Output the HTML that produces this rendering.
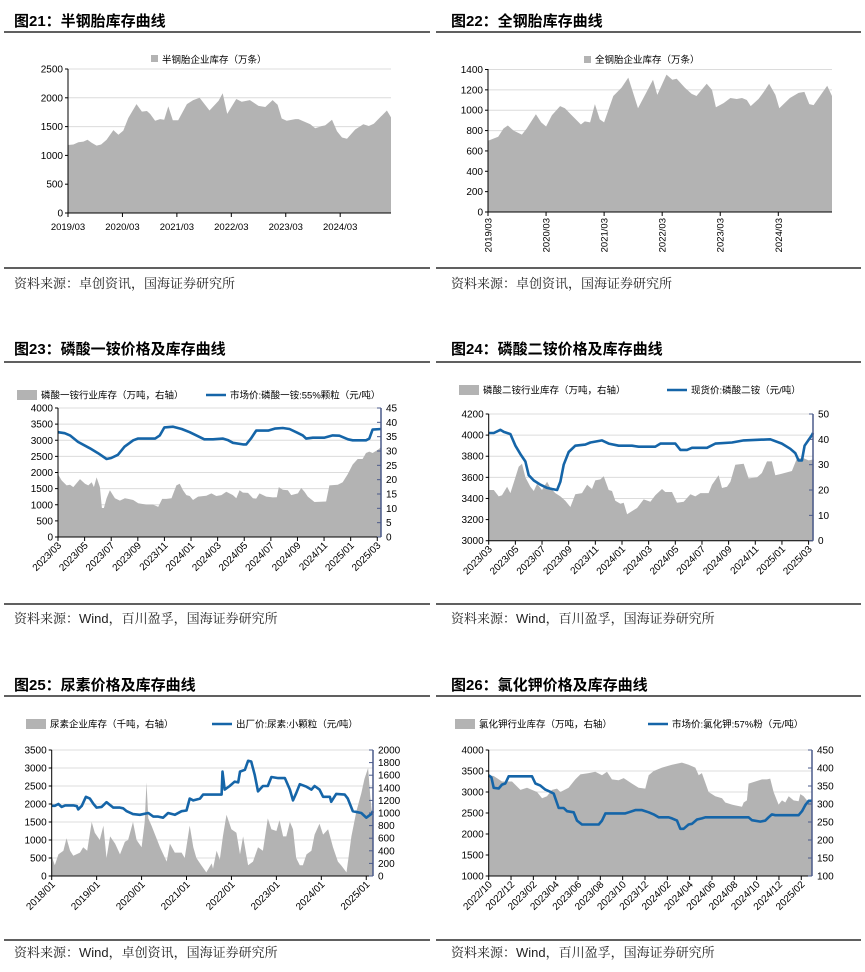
<!DOCTYPE html>
<html><head><meta charset="utf-8">
<style>
body{margin:0;background:#fff;width:865px;height:972px;overflow:hidden;font-family:"Liberation Sans","Noto Sans CJK SC",sans-serif;}
svg{position:absolute;left:0;top:0}
.t{font-family:"Liberation Sans","Noto Sans CJK SC",sans-serif;}
.src{font-family:"Liberation Sans","Noto Serif CJK SC",serif;}
</style></head><body>
<svg id="s" width="865" height="972" xmlns="http://www.w3.org/2000/svg">
<g class="t" font-size="15" font-weight="bold" fill="#000">
<text x="14" y="26">图21：半钢胎库存曲线</text>
<text x="451" y="26">图22：全钢胎库存曲线</text>
<text x="14" y="354">图23：磷酸一铵价格及库存曲线</text>
<text x="451" y="354">图24：磷酸二铵价格及库存曲线</text>
<text x="14" y="690">图25：尿素价格及库存曲线</text>
<text x="451" y="690">图26：氯化钾价格及库存曲线</text>
</g>
<g stroke="#000" stroke-width="1.3">
<line x1="4" y1="32" x2="430" y2="32"/><line x1="436" y1="32" x2="861" y2="32"/>
<line x1="4" y1="268" x2="430" y2="268"/><line x1="436" y1="268" x2="861" y2="268"/>
<line x1="4" y1="362" x2="430" y2="362"/><line x1="436" y1="362" x2="861" y2="362"/>
<line x1="4" y1="604" x2="430" y2="604"/><line x1="436" y1="604" x2="861" y2="604"/>
<line x1="4" y1="696" x2="430" y2="696"/><line x1="436" y1="696" x2="861" y2="696"/>
<line x1="4" y1="940" x2="430" y2="940"/><line x1="436" y1="940" x2="861" y2="940"/>
</g>
<g class="src" font-size="13" fill="#222">
<text x="14" y="288">资料来源：卓创资讯，国海证券研究所</text>
<text x="451" y="288">资料来源：卓创资讯，国海证券研究所</text>
<text x="14" y="623">资料来源：Wind，百川盈孚，国海证券研究所</text>
<text x="451" y="623">资料来源：Wind，百川盈孚，国海证券研究所</text>
<text x="14" y="957">资料来源：Wind，卓创资讯，国海证券研究所</text>
<text x="451" y="957">资料来源：Wind，百川盈孚，国海证券研究所</text>
</g>
</svg>
<script>
// ===== Fig21 data (month offset from 2019/03, value 万条)
const f21Months=[0,1.2,2.3,3.4,4.3,5.2,6.3,7.3,8.5,10,11.1,12.2,13.3,15.1,16.3,17.4,18.1,19.2,20.3,21.2,22.1,23.1,24.3,26.2,27.6,29,31.2,33.2,34.1,35.1,37.1,38.3,40.1,42,43.5,45.1,46.2,47.1,48.2,50.1,50.8,53.4,54.5,56,56.7,58.2,59.3,60.4,61.5,63.3,65.1,66.3,67.4,70.3,71.2];
const f21Values=[1180,1190,1230,1240,1270,1220,1170,1190,1270,1440,1360,1430,1650,1890,1760,1770,1720,1600,1630,1620,1850,1610,1610,1890,1960,2000,1780,1950,2080,1720,1980,1930,1960,1860,1840,1960,1880,1640,1600,1630,1630,1540,1470,1510,1520,1620,1420,1310,1290,1450,1540,1510,1550,1780,1660];
const f21YTicks=[0,500,1000,1500,2000,2500];
const f21XLabels=["2019/03","2020/03","2021/03","2022/03","2023/03","2024/03"];
// ===== Fig22
const f22Months=[0,2.1,3.2,4.1,5.3,7,8,9.9,11,12,13.2,14.9,15.9,17.3,19.2,20,21.1,22.1,23.1,24,25.9,27.6,29,31,33,34.1,35,36.9,38.1,39,40.7,42.1,43.1,45.2,46.3,47.1,48.7,50.1,51.4,52.5,53.5,54.3,55.9,57,58.1,59.4,60.2,62.4,64.2,65.4,66.4,67.3,70.1,71.1];
const f22Values=[700,740,820,850,800,760,820,960,880,840,950,1040,1020,950,860,890,880,1060,910,880,1140,1220,1320,1020,1200,1300,1150,1350,1300,1310,1220,1160,1140,1260,1200,1030,1070,1120,1110,1120,1100,1040,1110,1180,1260,1150,1020,1120,1170,1180,1060,1050,1240,1140];
const f22YTicks=[0,200,400,600,800,1000,1200,1400];
const f22XLabels=["2019/03","2020/03","2021/03","2022/03","2023/03","2024/03"];
// ===== Fig23 (months from 2023/03)
const f23PriceMonths=[0,0.5,0.9,1.5,2.4,3,3.65,4,4.5,5,5.65,6,7.3,7.65,8,8.65,9.3,9.9,10.4,11,11.65,12.4,12.8,13.15,13.9,14.15,14.5,14.9,15.8,16.3,16.9,17.4,18,18.4,18.65,19.15,20,20.65,21.15,21.8,22.15,23.15,23.4,23.65,24.3];
const f23Price=[3250,3220,3150,2950,2750,2600,2420,2450,2550,2800,3000,3050,3050,3150,3400,3420,3350,3250,3150,3030,3030,3050,3000,2920,2870,2870,3050,3300,3300,3360,3380,3350,3230,3150,3050,3080,3080,3150,3140,3030,3000,3000,3050,3330,3350];
const f23InvMonths=[0,.28,.65,.9,1.15,1.65,2.03,2.28,2.53,2.7,2.9,3.15,3.3,3.45,3.65,3.9,4.28,4.65,5.03,5.28,5.65,6.03,6.65,7.15,7.53,7.83,8.15,8.53,8.9,9.15,9.4,9.65,9.9,10.15,10.53,11.15,11.53,11.9,12.28,12.65,13.15,13.4,13.65,13.9,14.28,14.65,14.9,15.15,15.65,16.15,16.45,16.6,16.9,17.28,17.53,18.03,18.28,18.53,18.78,19.28,20.15,20.4,21.03,21.4,21.78,22.15,22.53,22.9,23.15,23.4,23.65,24.03,24.28];
const f23Inv=[21.9,19.7,18,18.2,17.4,20.2,18.6,18,19.1,17.4,20.8,17.4,10.1,10.1,13.5,16.3,13.5,12.7,13.5,13.3,12.9,11.8,11.3,11.3,10.5,13.3,13.3,13.5,18,18.6,16.3,14.6,14.3,12.9,14.1,14.4,15.2,14.3,14.6,15.8,14.6,13.5,16.3,15.5,15.4,13.5,13.4,15.2,14.1,13.8,13.9,17.4,16.5,16.3,14.6,15.2,17.1,15.8,14.1,12.2,12.4,18,18.2,19.1,21.9,25.3,27.2,27.2,29.3,29.8,29.3,30.4,31.3];
const f23LeftTicks=[0,500,1000,1500,2000,2500,3000,3500,4000];
const f23RightTicks=[0,5,10,15,20,25,30,35,40,45];
const f23XLabels=["2023/03","2023/05","2023/07","2023/09","2023/11","2024/01","2024/03","2024/05","2024/07","2024/09","2024/11","2025/01","2025/03"];
// ===== Fig24
const f24PriceMonths=[0,.38,.88,1.13,1.63,2,2.38,2.75,3,3.38,3.88,4.38,4.75,5.13,5.38,5.63,6,6.5,7.25,7.63,8.5,9,9.75,10.75,11.25,12.5,12.88,14,14.38,14.88,15.25,16.38,17,18.25,19.13,21.13,22,22.63,23,23.25,23.5,23.7,24.25,24.33];
const f24Price=[4020,4020,4050,4030,4010,3900,3820,3750,3620,3570,3530,3500,3490,3480,3560,3720,3840,3900,3910,3930,3950,3920,3900,3900,3890,3890,3920,3920,3860,3860,3880,3880,3920,3930,3950,3960,3920,3870,3830,3760,3760,3900,4000,4020];
const f24InvMonths=[0,.38,.75,1,1.38,1.63,2,2.25,2.5,2.75,3.13,3.38,3.63,4,4.38,4.63,5,5.38,5.75,6.13,6.5,7,7.38,7.75,8,8.38,8.63,9,9.25,9.5,9.88,10.13,10.38,10.75,11.13,11.63,12.13,12.5,13,13.25,13.75,14.13,14.63,15.13,15.5,15.88,16.5,16.75,17.25,17.5,17.88,18.13,18.5,19.13,19.5,20.13,20.5,20.88,21.25,21.5,21.88,22.75,23.13,23.63,24,24.38];
const f24Inv=[20,20,17.5,17.9,21.3,18.8,25,29.2,30.4,25,21.3,19.6,22.5,20,23.3,20.8,18.8,17.5,15.8,13.3,18.3,18.8,22.1,20.4,23.8,24.2,25.4,20,19.6,15.8,14.6,15,10.4,11.7,12.9,16.3,15.4,17.9,20.4,19.2,19.2,15,15.4,18.3,17.5,18.8,18.8,22.1,25.8,20.8,21.3,23.3,30,30.4,24.6,25,26.7,31.3,31.3,25.8,26.3,27.5,32.5,32.5,31.7,32.1];
const f24LeftTicks=[3000,3200,3400,3600,3800,4000,4200];
const f24RightTicks=[0,10,20,30,40,50];
const f24XLabels=f23XLabels;
// ===== Fig25 (years from 2018/01)
const f25PriceYears=[0,.07,.15,.22,.3,.48,.56,.59,.67,.76,.85,.93,1,1.11,1.22,1.37,1.52,1.59,1.67,1.81,1.96,2.15,2.26,2.37,2.48,2.59,2.74,2.89,3,3.07,3.15,3.3,3.37,3.67,3.78,3.8,3.85,3.96,4.07,4.15,4.19,4.3,4.37,4.44,4.52,4.59,4.7,4.81,4.89,5.04,5.19,5.3,5.37,5.44,5.52,5.67,5.78,5.85,5.96,6.04,6.19,6.22,6.33,6.52,6.59,6.7,6.89,7,7.11,7.15];
const f25Price=[1950,1950,2000,1920,1960,1960,1940,1850,1950,2200,2150,2000,1900,1920,2050,1900,1900,1880,1800,1720,1700,1750,1650,1650,1620,1750,1700,1800,1820,2150,2100,2150,2260,2260,2260,2900,2400,2500,2620,2600,2900,2950,3200,3180,2800,2350,2500,2500,2750,2720,2720,2400,2100,2300,2550,2480,2400,2500,2400,2200,2200,2060,2280,2260,2150,1800,1750,1620,1720,1800];
const f25InvYears=[0,.07,.15,.26,.33,.41,.48,.63,.7,.79,.89,.96,1.07,1.15,1.22,1.3,1.41,1.52,1.63,1.7,1.81,1.89,2,2.07,2.11,2.15,2.22,2.41,2.56,2.63,2.74,2.89,2.96,3.07,3.15,3.22,3.33,3.44,3.56,3.59,3.67,3.74,3.81,3.89,4,4.11,4.19,4.26,4.37,4.48,4.59,4.7,4.81,4.89,5,5.07,5.15,5.22,5.3,5.37,5.44,5.52,5.59,5.67,5.78,5.85,5.96,6.04,6.15,6.26,6.37,6.44,6.56,6.67,6.78,6.89,6.96,7.04,7.09,7.15];
const f25Inv=[314,171,343,400,600,400,320,371,457,400,857,686,571,800,286,629,514,343,543,571,857,571,457,857,1486,914,800,457,229,514,371,371,286,800,457,286,171,57,200,114,400,257,629,971,743,686,343,629,171,229,457,400,914,743,714,886,629,629,857,743,286,171,171,343,400,657,829,657,743,457,229,171,57,629,1029,1314,1543,1714,1257,857];
const f25LeftTicks=[0,500,1000,1500,2000,2500,3000,3500];
const f25RightTicks=[0,200,400,600,800,1000,1200,1400,1600,1800,2000];
const f25XLabels=["2018/01","2019/01","2020/01","2021/01","2022/01","2023/01","2024/01","2025/01"];
// ===== Fig26 (months from 2022/10)
const f26PriceMonths=[0,.24,.45,.9,1.19,1.49,1.79,3.88,4.18,4.63,5.07,5.52,5.82,6.27,6.72,7.01,7.61,7.91,8.36,9.85,10.15,10.45,12.24,12.54,13.13,13.73,14.33,14.78,15.22,16.12,16.42,16.87,17.16,17.46,17.91,18.21,18.66,19.1,19.4,23.28,23.58,24.33,24.78,25.07,25.37,25.67,27.76,28.06,28.36,28.66,28.96];
const f26Price=[380,374,345,343,354,357,377,377,357,351,340,334,329,289,289,280,277,254,243,243,254,274,274,277,283,283,277,271,263,263,260,254,231,231,243,245,257,260,263,263,255,251,254,263,271,269,269,280,297,309,309];
const f26InvMonths=[0,.45,1.19,2.09,2.84,3.43,3.88,4.33,4.78,5.22,5.67,6.12,6.42,7.16,7.76,8.21,8.96,9.55,10.15,10.6,11.04,11.64,12.09,12.84,13.43,14.03,14.33,14.78,15.52,16.42,17.31,17.91,18.51,18.81,19.1,19.7,20.3,20.9,21.19,21.79,22.09,22.69,22.84,23.13,23.28,23.88,24.48,24.93,25.22,25.52,25.82,25.97,26.27,26.57,26.87,27.31,27.76,27.91,28.21,28.51,28.96];
const f26Inv=[3400,3380,3250,3250,3050,3100,3050,3000,2850,2900,3050,3080,3000,3100,3300,3420,3450,3480,3400,3480,3300,3280,3330,3200,3100,3080,3400,3500,3580,3650,3700,3650,3580,3400,3450,3000,2900,2850,2750,2700,2680,2650,2750,2800,3200,3250,3300,3300,3320,3000,2800,2700,2800,2750,2900,2800,2780,2950,2900,2800,2800];
const f26LeftTicks=[1000,1500,2000,2500,3000,3500,4000];
const f26RightTicks=[100,150,200,250,300,350,400,450];
const f26XLabels=["2022/10","2022/12","2023/02","2023/04","2023/06","2023/08","2023/10","2023/12","2024/02","2024/04","2024/06","2024/08","2024/10","2024/12","2025/02"];

const NS="http://www.w3.org/2000/svg";
const S=document.getElementById('s');
function mk(tag,attrs,parent){const e=document.createElementNS(NS,tag);for(const k in attrs)e.setAttribute(k,attrs[k]);(parent||S).appendChild(e);return e;}
function lin(d0,d1,r0,r1){return v=>r0+(v-d0)*(r1-r0)/(d1-d0);}
function areaPath(xs,ys,X,Y,base){let d='M'+X(xs[0]).toFixed(1)+','+base;for(let i=0;i<xs.length;i++)d+='L'+X(xs[i]).toFixed(1)+','+Y(ys[i]).toFixed(1);d+='L'+X(xs[xs.length-1]).toFixed(1)+','+base+'Z';return d;}
function linePath(xs,ys,X,Y){let d='';for(let i=0;i<xs.length;i++)d+=(i?'L':'M')+X(xs[i]).toFixed(1)+','+Y(ys[i]).toFixed(1);return d;}
function txt(g,x,y,s,attrs){const t=mk('text',Object.assign({x:x,y:y,'font-size':10,fill:'#000','font-family':'Liberation Sans, Noto Sans CJK SC, sans-serif'},attrs||{}),g);t.textContent=s;return t;}

function yAxisLeft(g,ticks,Y,x,x2){ticks.forEach(v=>{const y=Y(v);if(v!==ticks[0])mk('line',{x1:x,y1:y,x2:x2,y2:y,stroke:'#dcdcdc','stroke-width':1},g);mk('line',{x1:x-3,y1:y,x2:x,y2:y,stroke:'#000'},g);const t=txt(g,x-5,y+3.5,String(v),{'text-anchor':'end'});});}
function yAxisRight(g,ticks,Y,x){mk('line',{x1:x,y1:Y(ticks[0]),x2:x,y2:Y(ticks[ticks.length-1]),stroke:'#4a5a8a','stroke-width':1.5},g);ticks.forEach(v=>{const y=Y(v);mk('line',{x1:x,y1:y,x2:x-4,y2:y,stroke:'#4a5a8a'},g);const t=txt(g,x+5,y+3.5,String(v));});}

// ---------- Fig21
(function(){
const g=mk('g',{});
const X=lin(0,71.2,68,391),Y=lin(0,2500,213,69);
yAxisLeft(g,f21YTicks,Y,68,391);
const a=mk('path',{d:areaPath(f21Months,f21Values,X,Y,213),fill:'#b3b3b3'},g);

mk('line',{x1:68,y1:69,x2:68,y2:213,stroke:'#000'},g);mk('line',{x1:68,y1:213,x2:391,y2:213,stroke:'#000'},g);
f21XLabels.forEach((s,i)=>{const x=X(i*12);mk('line',{x1:x,y1:213,x2:x,y2:217,stroke:'#000'},g);const t=txt(g,x,230,s,{'text-anchor':'middle','font-size':9.5});});
const r=mk('rect',{x:151,y:55,width:7,height:7,fill:'#b3b3b3'},g);
const l=txt(g,162,63,'半钢胎企业库存（万条）',{'font-size':9.5});
})();
// ---------- Fig22
(function(){
const g=mk('g',{});
const X=lin(0,71.1,488,832),Y=lin(0,1400,212,69.5);
yAxisLeft(g,f22YTicks,Y,488,832);
const a=mk('path',{d:areaPath(f22Months,f22Values,X,Y,212),fill:'#b3b3b3'},g);

mk('line',{x1:488,y1:69,x2:488,y2:212,stroke:'#000'},g);mk('line',{x1:488,y1:212,x2:832,y2:212,stroke:'#000'},g);
f22XLabels.forEach((s,i)=>{const x=X(i*12);mk('line',{x1:x,y1:212,x2:x,y2:216,stroke:'#000'},g);const t=txt(g,x+3.5,218,s,{'text-anchor':'end','font-size':9.5,transform:'rotate(-90 '+(x+3.5)+' 218)'});});
const r=mk('rect',{x:584,y:56,width:7,height:7,fill:'#b3b3b3'},g);
const l=txt(g,595,63,'全钢胎企业库存（万条）',{'font-size':9.5});
})();
// ---------- dual axis charts
function dual(cfg){
const g=mk('g',{});
const X=lin(cfg.xd[0],cfg.xd[1],cfg.x0,cfg.x1);
const L=cfg.lt,R=cfg.rt;
const YL=lin(L[0],L[L.length-1],cfg.yb,cfg.yt),YR=lin(R[0],R[R.length-1],cfg.yb,cfg.yt);
yAxisLeft(g,L,YL,cfg.x0,cfg.x1);
const a=mk('path',{d:areaPath(cfg.invX,cfg.inv,X,YR,cfg.yb),fill:'#b3b3b3'},g);

const p=mk('path',{d:linePath(cfg.priceX,cfg.price,X,YL),fill:'none',stroke:'#1565a8','stroke-width':2.6,'stroke-linejoin':'round'},g);

mk('line',{x1:cfg.x0,y1:cfg.yt,x2:cfg.x0,y2:cfg.yb,stroke:'#000'},g);
mk('line',{x1:cfg.x0,y1:cfg.yb,x2:cfg.x1,y2:cfg.yb,stroke:'#000'},g);
yAxisRight(g,R,YR,cfg.x1);
cfg.xl.forEach((s,i)=>{const x=X(i*cfg.step);mk('line',{x1:x,y1:cfg.yb,x2:x,y2:cfg.yb+4,stroke:'#000'},g);const ty=cfg.yb+9;const t=txt(g,x+4,ty,s,{'text-anchor':'end','font-size':10,transform:'rotate(-45 '+(x+4)+' '+ty+')'});});
const r=mk('rect',{x:cfg.lx,y:cfg.ly-5,width:20,height:10,fill:'#b3b3b3'},g);
const t1=txt(g,cfg.lx+24,cfg.ly+3.5,cfg.l1,{'font-size':9.5});
mk('line',{x1:cfg.lx2,y1:cfg.ly,x2:cfg.lx2+20,y2:cfg.ly,stroke:'#1565a8','stroke-width':2.6},g);
const t2=txt(g,cfg.lx2+24,cfg.ly+3.5,cfg.l2,{'font-size':9.5});
}
dual({name:'fig23-chart',xd:[0,24.28],x0:58,x1:381,yb:537,yt:408,lt:f23LeftTicks,rt:f23RightTicks,invX:f23InvMonths,inv:f23Inv,priceX:f23PriceMonths,price:f23Price,xl:f23XLabels,step:2,lx:17,ly:395,lx2:206,l1:'磷酸一铵行业库存（万吨，右轴）',l2:'市场价:磷酸一铵:55%颗粒（元/吨）'});
dual({name:'fig24-chart',xd:[0,24.33],x0:488.7,x1:813,yb:540.7,yt:414,lt:f24LeftTicks,rt:f24RightTicks,invX:f24InvMonths,inv:f24Inv,priceX:f24PriceMonths,price:f24Price,xl:f24XLabels,step:2,lx:459,ly:390,lx2:667,l1:'磷酸二铵行业库存（万吨，右轴）',l2:'现货价:磷酸二铵（元/吨）'});
dual({name:'fig25-chart',xd:[0,7.15],x0:51.7,x1:373,yb:876,yt:750,lt:f25LeftTicks,rt:f25RightTicks,invX:f25InvYears,inv:f25Inv,priceX:f25PriceYears,price:f25Price,xl:f25XLabels,step:1,lx:26,ly:724,lx2:212,l1:'尿素企业库存（千吨，右轴）',l2:'出厂价:尿素:小颗粒（元/吨）'});
dual({name:'fig26-chart',xd:[0,28.96],x0:488.7,x1:812,yb:876,yt:750,lt:f26LeftTicks,rt:f26RightTicks,invX:f26InvMonths,inv:f26Inv.map(v=>100+(v-1000)*350/3000),priceX:f26PriceMonths,price:f26Price.map(v=>1000+(v-100)*3000/350),xl:f26XLabels,step:2,lx:455,ly:724,lx2:648,l1:'氯化钾行业库存（万吨，右轴）',l2:'市场价:氯化钾:57%粉（元/吨）'});
</script>
</body></html>
